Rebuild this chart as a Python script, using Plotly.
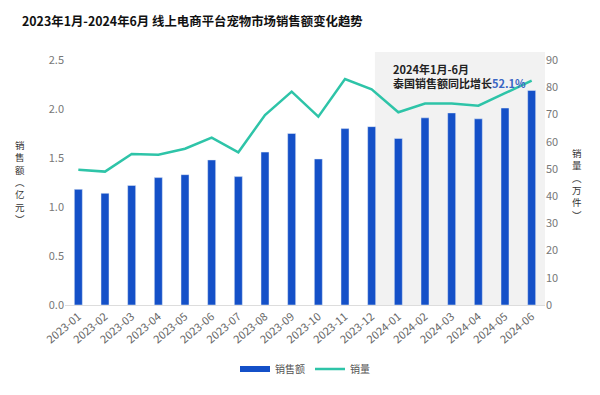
import plotly.graph_objects as go

months = ["2023-01","2023-02","2023-03","2023-04","2023-05","2023-06","2023-07","2023-08","2023-09",
          "2023-10","2023-11","2023-12","2024-01","2024-02","2024-03","2024-04","2024-05","2024-06"]
sales_amount = [1.18,1.14,1.22,1.30,1.33,1.48,1.31,1.56,1.75,1.49,1.80,1.82,1.70,1.91,1.96,1.90,2.01,2.19]
sales_volume = [49.7,49.0,55.5,55.2,57.4,61.5,56.1,69.8,78.4,69.2,83.0,79.2,70.8,74.0,74.0,73.2,77.8,82.4]
left_ticks = [0.0,0.5,1.0,1.5,2.0,2.5]
right_ticks = [0,10,20,30,40,50,60,70,80,90]
left_title = ["销","售","额","︵","亿","元","︶"]
right_title = ["销","量","︵","万","件","︶"]

FONT = "Noto Sans CJK SC, Microsoft YaHei, sans-serif"
BAR_C = "#1450C8"
LINE_C = "#2EC4A8"

# page has 8px body margin: figure placed at (8,8)
W, H = 592, 387
L, R, T, B = 57, 55, 52, 90
PW, PH = W - L - R, H - T - B

def px_x(page_x):
    return (page_x - 8 - L) / PW

def px_y(page_y):
    return 1 - (page_y - 8 - T) / PH

fig = go.Figure()
fig.add_trace(go.Bar(x=list(range(len(months))), y=sales_amount, name="销售额",
                     marker_color=BAR_C, width=0.3, yaxis="y", showlegend=False))
# legend entry for the bars drawn as a wide flat swatch
fig.add_trace(go.Scatter(x=[None], y=[None], mode="lines", name="销售额",
                         line=dict(color=BAR_C, width=6), yaxis="y"))
fig.add_trace(go.Scatter(x=list(range(len(months))), y=sales_volume, name="销量", mode="lines",
                         line=dict(color=LINE_C, width=2.5), yaxis="y2"))

fig.add_shape(type="rect", xref="x", yref="paper", x0=11.12, x1=17.5, y0=0, y1=px_y(52),
              fillcolor="#F2F2F2", line_width=0, layer="below")

fig.add_annotation(xref="paper", yref="paper", x=px_x(392), y=px_y(60), xanchor="left", yanchor="top",
                   showarrow=False, align="left", borderpad=0,
                   text="<b>2024年1月-6月<br>泰国销售额同比增长<span style='color:#3A66C4'>52.1%</span></b>",
                   font=dict(family=FONT, size=11, color="#222222"))

fig.add_annotation(xref="paper", yref="paper", x=px_x(20), y=px_y(182), xanchor="center", yanchor="middle",
                   showarrow=False, text="<br>".join(left_title), borderpad=0,
                   font=dict(family=FONT, size=9.5, color="#333333"))
fig.add_annotation(xref="paper", yref="paper", x=px_x(577), y=px_y(184), xanchor="center", yanchor="middle",
                   showarrow=False, text="<br>".join(right_title), borderpad=0,
                   font=dict(family=FONT, size=9.5, color="#333333"))

fig.update_layout(
    width=W, height=H,
    margin=dict(l=L, r=R, t=T, b=B),
    paper_bgcolor="white", plot_bgcolor="rgba(0,0,0,0)",
    title=dict(text="<b>2023年1月-2024年6月 线上电商平台宠物市场销售额变化趋势</b>",
               x=14 / W, xanchor="left", y=1 - 14 / H, yanchor="middle",
               font=dict(family=FONT, size=12.4, color="#111111")),
    font=dict(family=FONT, size=11, color="#666666"),
    xaxis=dict(tickmode="array", tickvals=list(range(len(months))), ticktext=months,
               tickangle=-40, range=[-0.5, 17.5], showgrid=False, showline=True,
               linecolor="#DDDDDD", linewidth=1, ticks="", zeroline=False,
               tickfont=dict(size=11, color="#666666")),
    yaxis=dict(range=[0, 2.5], tickvals=left_ticks, tickformat=".1f", showgrid=False,
               zeroline=False, showline=False, ticks="", automargin=False,
               tickfont=dict(size=11, color="#777777")),
    yaxis2=dict(range=[0, 90], tickvals=right_ticks, overlaying="y", side="right",
                showgrid=False, zeroline=False, showline=False, ticks="", automargin=False,
                tickfont=dict(size=11, color="#777777")),
    legend=dict(orientation="h", x=0.5, xanchor="center", y=px_y(369), yanchor="middle",
                font=dict(size=10, color="#555555"), traceorder="normal", itemwidth=30),
    bargap=0.7,
)

fig.write_html("out.html")
